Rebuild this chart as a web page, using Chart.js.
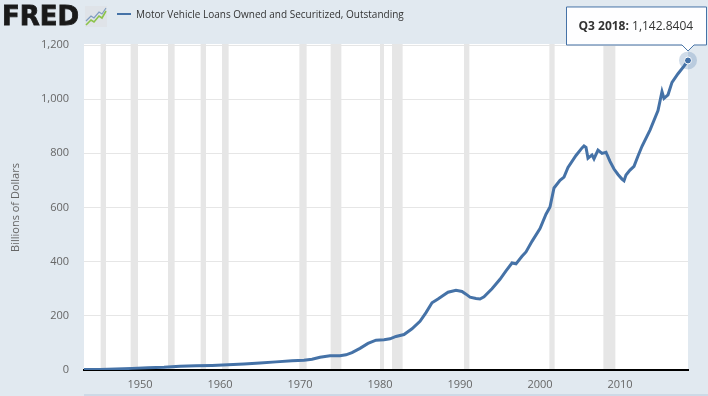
<!DOCTYPE html>
<html>
<head>
<meta charset="utf-8">
<script src="https://cdn.jsdelivr.net/npm/chart.js@4/dist/chart.umd.min.js"></script>
<style>
  html, body { margin: 0; padding: 0; background: #e1e9f0; }
  #wrap { position: relative; width: 708px; height: 396px; overflow: hidden; }
  #chart { position: absolute; left: 0; top: 0; }
  .logo { position: absolute; left: 2px; top: 3px; font: bold 26px "DejaVu Sans", sans-serif; color: #1a1a1a; letter-spacing: 0px; line-height: 26px; -webkit-text-stroke: 0.8px #1a1a1a; }
  .logo-icon { position: absolute; left: 85px; top: 6px; }
  .legend { position: absolute; left: 117px; top: 7px; font: 10px "Open Sans", sans-serif; color: #333; white-space: nowrap; }
  .legend i { display: inline-block; width: 14px; height: 2px; background: #4572a7; vertical-align: middle; margin-right: 5px; position: relative; top: -1px; }
  .nav { position: absolute; left: 84px; right: 0; top: 394px; height: 2px; background: #cdd9e6; }
</style>
</head>
<body>
<div id="wrap">
  <canvas id="chart" width="708" height="396"></canvas>
  <div class="logo">FRED</div>
  <svg class="logo-icon" width="22" height="21" viewBox="0 0 22 21">
    <rect x="0" y="0" width="22" height="21" fill="#dfe3e8"/>
    <polyline points="1,19 6,14 9,16 14,10 17,12 21,5" fill="none" stroke="#8cc34a" stroke-width="1.6"/>
    <polyline points="1,15 6,10 9,12 14,6 17,8 21,2" fill="none" stroke="#7f9cc0" stroke-width="1.2"/>
  </svg>
  <div class="legend"><i></i>Motor Vehicle Loans Owned and Securitized, Outstanding</div>
  <div class="nav"></div>
</div>
<script>
// quý (năm thập phân) và giá trị
const dates = [
  1943.0, 1945.0, 1947.0, 1949.0, 1951.0, 1953.0, 1955.0, 1957.0, 1959.0, 1961.0,
  1963.0, 1965.0, 1967.0, 1969.0, 1970.5, 1971.5, 1972.5, 1973.75, 1975.0, 1975.75,
  1976.5, 1977.5, 1978.5, 1979.5, 1980.5, 1981.25, 1982.0, 1983.0, 1984.0, 1985.0,
  1985.75, 1986.5, 1987.25, 1987.75, 1988.5, 1989.5, 1990.25, 1990.75, 1991.25, 1992.0,
  1992.5, 1993.0, 1994.0, 1995.0, 1995.75, 1996.5, 1997.0, 1997.75, 1998.25, 1999.0,
  2000.0, 2000.75, 2001.25, 2001.75, 2002.5, 2003.0, 2003.5, 2004.5, 2005.25, 2005.5,
  2005.75, 2006.0, 2006.5, 2006.75, 2007.25, 2007.75, 2008.25, 2008.75, 2009.25, 2009.75,
  2010.25, 2010.5, 2010.75, 2011.25, 2011.75, 2012.25, 2012.75, 2013.75, 2014.75, 2015.25,
  2015.5, 2016.0, 2016.5, 2017.25, 2018.0, 2018.5
];
const values = [
  1.5, 2, 4, 6, 8, 10, 14, 16, 17, 19,
  22, 26, 30, 34, 36, 40, 47, 53, 53, 56,
  64, 80, 98, 110, 112, 115, 124, 131, 152, 180,
  212, 248, 262, 272, 287, 294, 290, 280, 269, 264,
  262, 270, 300, 335, 366, 395, 392, 420, 436, 475,
  522, 575, 602, 672, 700, 712, 748, 792, 820, 827,
  822, 782, 794, 780, 812, 800, 804, 770, 742, 722,
  705, 699, 720, 738, 752, 790, 826, 886, 958, 1028,
  1003, 1016, 1062, 1094, 1122, 1142.8404
];
const xTicks = [1950, 1960, 1970, 1980, 1990, 2000, 2010];
const yTicks = [0, 200, 400, 600, 800, 1000, 1200];
// các kỳ suy thoái (đầu, cuối)
const recessionStart = [1945.08, 1948.83, 1953.5, 1957.58, 1960.25, 1969.92, 1973.83, 1980.0, 1981.5, 1990.5, 2001.17, 2007.92];
const recessionEnd = [1945.75, 1949.75, 1954.33, 1958.25, 1961.08, 1970.83, 1975.17, 1980.5, 1982.83, 1991.17, 2001.83, 2009.42];
const tipLabel = "Q3 2018:";
const tipValue = "1,142.8404";

const LINE_COLOR = "#4572a7";

/**
 * Nền trắng cho vùng vẽ và các dải suy thoái.
 */
const backdrop = {
  id: "backdrop",
  beforeDraw(chart) {
    const { ctx, chartArea: a, scales } = chart;
    ctx.save();
    ctx.fillStyle = "#ffffff";
    ctx.fillRect(a.left, a.top - 1, a.right - a.left, a.bottom - a.top + 1);
    ctx.fillStyle = "#e6e6e6";
    recessionStart.forEach((s, i) => {
      const x1 = scales.x.getPixelForValue(s);
      const x2 = scales.x.getPixelForValue(recessionEnd[i]);
      ctx.fillRect(x1, a.top - 1, Math.max(x2 - x1, 1), a.bottom - a.top + 1);
    });
    ctx.restore();
  },
};

/**
 * Vẽ tooltip cố định ở điểm cuối cùng.
 */
const lastTip = {
  id: "lastTip",
  afterDraw(chart) {
    const { ctx, scales } = chart;
    const i = values.length - 1;
    const px = scales.x.getPixelForValue(dates[i]);
    const py = scales.y.getPixelForValue(values[i]);
    ctx.save();
    // quầng sáng
    ctx.fillStyle = "rgba(69,114,167,0.25)";
    ctx.beginPath();
    ctx.arc(px, py, 9, 0, Math.PI * 2);
    ctx.fill();
    ctx.fillStyle = LINE_COLOR;
    ctx.strokeStyle = "#ffffff";
    ctx.lineWidth = 1;
    ctx.beginPath();
    ctx.arc(px, py, 3.5, 0, Math.PI * 2);
    ctx.fill();
    ctx.stroke();

    // hộp
    const right = px + 18.5, bottom = py - 15.5;
    const left = right - 140, top = bottom - 38;
    ctx.beginPath();
    ctx.moveTo(left, top);
    ctx.lineTo(right, top);
    ctx.lineTo(right, bottom);
    ctx.lineTo(px + 6, bottom);
    ctx.lineTo(px, bottom + 6);
    ctx.lineTo(px - 6, bottom);
    ctx.lineTo(left, bottom);
    ctx.closePath();
    ctx.fillStyle = "rgba(255,255,255,0.95)";
    ctx.fill();
    ctx.strokeStyle = LINE_COLOR;
    ctx.stroke();

    ctx.textBaseline = "middle";
    ctx.fillStyle = "#333333";
    ctx.font = "bold 12px 'Open Sans'";
    const tx = left + 12, ty = (top + bottom) / 2 + 1;
    ctx.fillText(tipLabel, tx, ty);
    const w = ctx.measureText(tipLabel + " ").width;
    ctx.font = "12px 'Open Sans'";
    ctx.fillText(tipValue, tx + w, ty);
    ctx.restore();
  },
};

const points = dates.map((d, i) => ({ x: d, y: values[i] }));

new Chart(document.getElementById("chart").getContext("2d"), {
  type: "line",
  data: {
    datasets: [
      {
        data: points,
        borderColor: LINE_COLOR,
        borderWidth: 3,
        pointRadius: 0,
        tension: 0,
        fill: false,
      },
    ],
  },
  options: {
    responsive: false,
    animation: false,
    events: [],
    layout: { padding: { top: 45, right: 20, left: 0, bottom: 0 } },
    plugins: { legend: { display: false }, tooltip: { enabled: false } },
    scales: {
      x: {
        type: "linear",
        min: 1943,
        max: 2018.5,
        afterFit: (s) => { s.height = 26; },
        afterBuildTicks: (s) => { s.ticks = xTicks.map((v) => ({ value: v })); },
        grid: { display: false, drawTicks: false },
        border: { display: true, color: "#000000", width: 2 },
        ticks: {
          padding: 8,
          color: "#666666",
          font: { family: "'Open Sans'", size: 11 },
          maxRotation: 0,
          callback: (v) => String(v),
        },
      },
      y: {
        min: 0,
        max: 1200,
        afterFit: (s) => { s.width = 84; },
        afterBuildTicks: (s) => { s.ticks = yTicks.map((v) => ({ value: v })); },
        grid: { color: "#e6e6e6", drawTicks: false },
        border: { display: false },
        ticks: {
          padding: 15,
          color: "#666666",
          font: { family: "'Open Sans'", size: 11 },
          callback: (v) => v.toLocaleString("en-US"),
        },
        title: {
          display: true,
          text: "Billions of Dollars",
          color: "#666666",
          font: { family: "'Open Sans'", size: 11 },
          padding: { top: 9, bottom: 0 },
        },
      },
    },
  },
  plugins: [backdrop, lastTip],
});
</script>
</body>
</html>
